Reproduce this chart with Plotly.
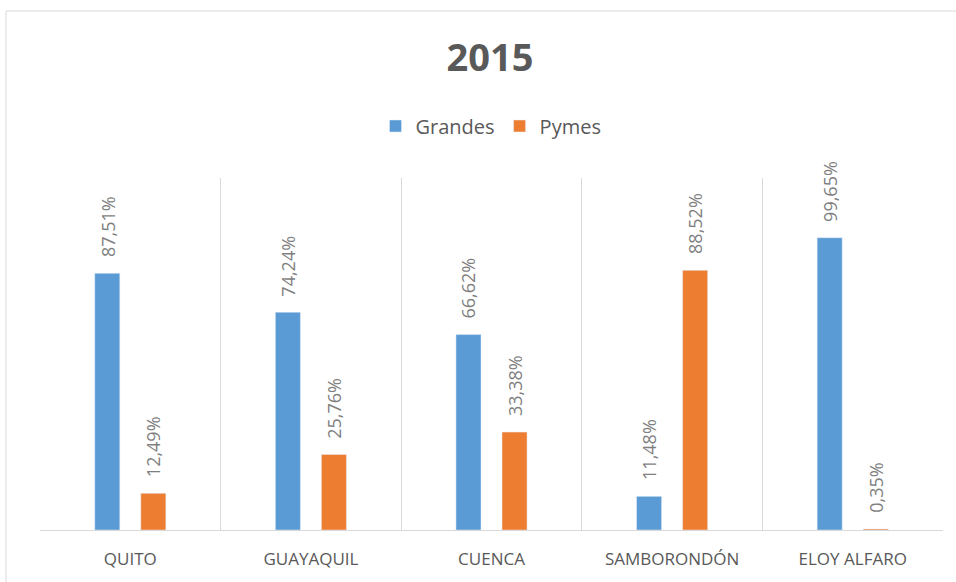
import plotly.graph_objects as go

categories = ["QUITO", "GUAYAQUIL", "CUENCA", "SAMBORONDÓN", "ELOY ALFARO"]
grandes = [87.51, 74.24, 66.62, 11.48, 99.65]
pymes = [12.49, 25.76, 33.38, 88.52, 0.35]

def fmt(v):
    return f"{v:.2f}".replace(".", ",") + "%"

W, H = 956, 582
ml, mr, mt, mb = 40, 13, 178, 52
pw, ph = W - ml - mr, H - mt - mb

label_font = dict(family="Open Sans", size=18, color="#7f7f7f")

fig = go.Figure()
fig.add_trace(go.Bar(name="Grandes", x=categories, y=grandes, marker_color="#5B9BD5"))
fig.add_trace(go.Bar(name="Pymes", x=categories, y=pymes, marker_color="#ED7D31"))

# data labels (rotated) above each bar
for series, dx in ((grandes, -23), (pymes, 23)):
    for c, v in zip(categories, series):
        fig.add_annotation(x=c, y=v, xref="x", yref="y", text=fmt(v), showarrow=False,
                           textangle=-90, xanchor="center", yanchor="bottom",
                           xshift=dx, yshift=14, font=label_font)

# outer chart border (left/top visible)
fig.add_shape(type="rect", xref="paper", yref="paper",
              x0=(6 - ml) / pw, x1=(W + 20 - ml) / pw,
              y0=(H - mb - (H + 20)) / ph, y1=(H - mb - 11) / ph,
              line=dict(color="#d9d9d9", width=1), fillcolor="rgba(0,0,0,0)", layer="below")

fig.update_layout(
    width=W, height=H,
    margin=dict(l=ml, r=mr, t=mt, b=mb),
    paper_bgcolor="white", plot_bgcolor="white",
    barmode="group", bargap=0.49, bargroupgap=0.456,
    title=dict(text="<b>2015</b>", x=490 / W, xanchor="center", y=1 - 58 / H, yanchor="middle",
               font=dict(family="Open Sans", size=38, color="#595959")),
    legend=dict(orientation="h", x=491 / W, xanchor="center", y=1 - 126 / H, yanchor="middle",
                xref="container", yref="container",
                font=dict(family="Open Sans", size=20, color="#595959"),
                traceorder="normal"),
    xaxis=dict(tickson="boundaries", showgrid=True, gridcolor="#d9d9d9", gridwidth=1,
               showline=True, linecolor="#d9d9d9", linewidth=1, ticks="",
               tickfont=dict(family="Open Sans", size=17, color="#595959"), ticklabelstandoff=14),
    yaxis=dict(range=[0, 120], visible=False, showgrid=False, zeroline=False),
)

fig.write_html("out.html", config={"displayModeBar": False},
               post_script="document.body.style.margin='0';document.body.style.overflow='hidden';")
